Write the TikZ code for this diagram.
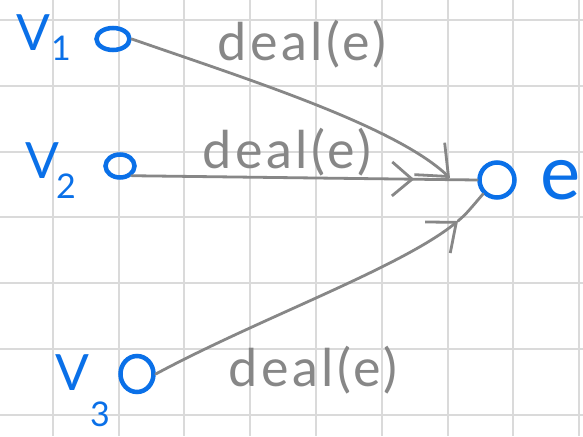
\documentclass[tikz,border=0pt]{standalone}
\usepackage{fontspec}
\setmainfont{Lato}
\newfontfamily\handfont[LetterSpace=7]{Lato}
\usetikzlibrary{arrows.meta,shapes.geometric,decorations.markings}
\definecolor{inkblue}{RGB}{10,112,232}
\definecolor{inkgray}{RGB}{135,135,135}
\definecolor{gridgray}{RGB}{218,218,218}
\tikzset{
  gridline/.style={draw=gridgray, line width=1.2pt},
  vnode/.style={draw=inkblue, line width=4.5pt, ellipse, inner sep=0pt},
  vlab/.style={text=inkblue, font=\fontsize{50}{50}\selectfont, inner sep=0pt},
  vsub/.style={text=inkblue, font=\fontsize{34}{34}\selectfont, inner sep=0pt},
  elab/.style={text=inkgray, font=\handfont\fontsize{52}{52}\selectfont, inner sep=0pt},
  edge/.style={draw=inkgray, line width=2.8pt, line cap=round, line join=round},
}
\begin{document}
\begin{tikzpicture}[x=1pt,y=-1pt]
\useasboundingbox (0,0) rectangle (583,436);
\fill[white] (0,0) rectangle (583,436);
% grid
\foreach \gx in {53,119,184,250,316,382,448,513,579} \draw[gridline] (\gx,0) -- (\gx,436);
\foreach \gy in {20,86,152,217,283,349,415} \draw[gridline] (0,\gy) -- (583,\gy);
% nodes
\node[vnode, minimum width=33pt, minimum height=22pt] (v1) at (113,39) {};
\node[vnode, minimum width=29pt, minimum height=23pt] (v2) at (120,166) {};
\node[vnode, minimum width=33pt, minimum height=36pt] (v3) at (137,374) {};
\node[vnode, circle, minimum size=35pt] (e) at (497,180) {};
% node labels
\node[vlab] (l1) at (33,33) {V};
\node[vsub] (s1) at (61,48) {1};
\node[vlab] (l2) at (42,161) {V};
\node[vsub] (s2) at (66,186) {2};
\node[vlab] (l3) at (72,373) {V};
\node[vsub] (s3) at (100,414) {3};
\node[text=inkblue, font=\fontsize{76}{76}\selectfont, inner sep=0pt] (le) at (561,180) {e};
% connectors
\coordinate (t1) at (450,178);
\coordinate (t3) at (458,221);
\draw[edge, -{Straight Barb[length=26pt,width=44pt]}] (v1.east) .. controls (250,80) and (395,126) .. (t1);
\draw[edge, postaction={decorate}, decoration={markings, mark=at position -63pt with {\arrow{Straight Barb[length=20pt,width=34pt]}}}]
  (v2.south east) -- (e.west);
\draw[edge, -{Straight Barb[length=24pt,width=40pt]}] (v3.east) .. controls (260,318) and (400,268) .. (t3);
\draw[edge] (t3) .. controls (466,214) .. (e.south west);
% edge labels
\node[elab] (d1) at (302,44) {deal(e)};
\node[elab] (d2) at (287,152) {deal(e)};
\node[elab] (d3) at (313,370) {deal(e)};
\end{tikzpicture}
\end{document}
